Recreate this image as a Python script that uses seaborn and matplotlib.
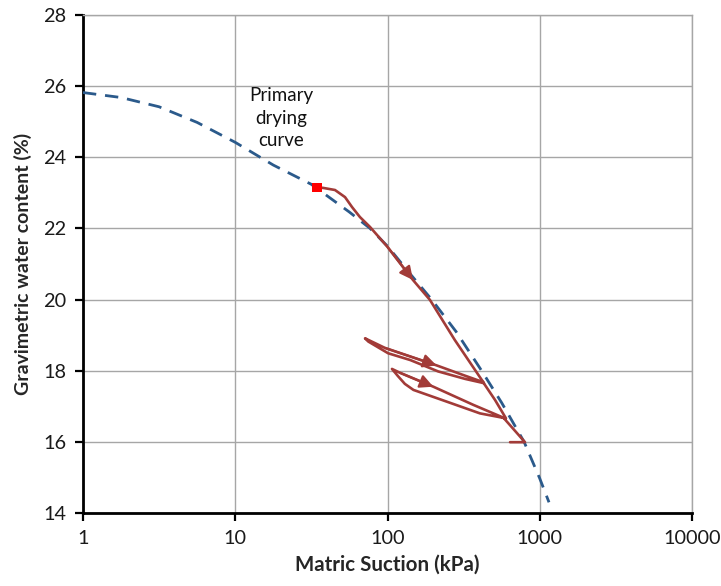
import matplotlib
matplotlib.use("Agg")
import matplotlib.pyplot as plt
import seaborn as sns
import pandas as pd

# Primary drying curve (suction in kPa, gravimetric water content in %)
primary_suction = [1, 1.78, 3.16, 5.62, 10, 17.8, 31.6, 56.2, 76.8, 100, 141,
                   195, 282, 415, 562, 789, 1000, 1150]
primary_water = [25.82, 25.68, 25.42, 24.98, 24.42, 23.78, 23.24, 22.46, 22.0, 21.5,
                 20.72, 20.0, 19.1, 18.0, 17.1, 16.0, 14.97, 14.3]

# Measured drying / wetting path
path_suction = [34.4, 37.7, 45.2, 52.6, 58.5, 65.9, 76.8, 100, 147, 190, 277, 430,
                323, 215, 141, 101, 74.8, 71.2,
                96.3, 210, 323, 424,
                508, 600,
                405, 245, 148, 130, 117, 107,
                121, 200, 366, 577,
                800, 638]
path_water = [23.15, 23.14, 23.08, 22.88, 22.60, 22.32, 22.04, 21.48, 20.55, 19.99, 18.86, 17.65,
              17.77, 17.98, 18.30, 18.49, 18.82, 18.91,
              18.64, 18.15, 17.86, 17.68,
              17.18, 16.66,
              16.80, 17.13, 17.46, 17.63, 17.85, 18.05,
              17.94, 17.55, 17.04, 16.68,
              15.99, 15.99]

# Direction arrows: index of the arrow tip within the measured path
arrow_idx = [8, 19, 31]

# Starting point of the test
start_suction = [34.4]
start_water = [23.15]

x_ticks = [1, 10, 100, 1000, 10000]
x_tick_labels = ["1", "10", "100", "1000", "10000"]
y_ticks = [14, 16, 18, 20, 22, 24, 26, 28]

sns.set_style("white")
plt.rcParams["font.family"] = ["Lato", "DejaVu Sans"]

RED = "#A23B38"
BLUE = "#2B5A8B"
GRID = "#A6A6A6"

fig = plt.figure(figsize=(7.21, 5.86), dpi=100)
ax = fig.add_axes([0.1151, 0.1246, 0.8447, 0.8498])
ax.set_xscale("log")

primary = pd.DataFrame({"suction": primary_suction, "water": primary_water})
path = pd.DataFrame({"suction": path_suction, "water": path_water})

sns.lineplot(data=primary, x="suction", y="water", sort=False, estimator=None,
             color=BLUE, linewidth=2.0, ax=ax, zorder=3)
ax.lines[-1].set_dashes([4.8, 3.2])

sns.lineplot(data=path, x="suction", y="water", sort=False, estimator=None,
             color=RED, linewidth=1.9, ax=ax, zorder=4)

for i in arrow_idx:
    ax.annotate("", xy=(path_suction[i], path_water[i]),
                xytext=(path_suction[i - 1], path_water[i - 1]),
                arrowprops=dict(arrowstyle="-|>", color=RED, lw=1.6,
                                mutation_scale=20, shrinkA=0, shrinkB=0),
                zorder=5)

sns.scatterplot(x=start_suction, y=start_water, marker="s", s=45, color="#FF0000",
                edgecolor="none", ax=ax, zorder=6)

ax.set_xlim(1, 10000)
ax.set_ylim(14, 28)
ax.set_xticks(x_ticks)
ax.set_xticklabels(x_tick_labels)
ax.xaxis.set_minor_locator(matplotlib.ticker.NullLocator())
ax.set_yticks(y_ticks)

ax.grid(True, which="major", color=GRID, linewidth=1.0)
ax.set_axisbelow(True)

for side in ("left", "bottom"):
    ax.spines[side].set_color("black")
    ax.spines[side].set_linewidth(2.0)
for side in ("top", "right"):
    ax.spines[side].set_color(GRID)
    ax.spines[side].set_linewidth(1.0)

ax.tick_params(axis="both", which="major", direction="out", length=6, width=1.6,
               color="black", labelsize=14.3, labelcolor="#1a1a1a", pad=6,
               bottom=True, left=True)

ax.set_xlabel("Matric Suction (kPa)", fontsize=14.8, fontweight="bold", labelpad=6)
ax.set_ylabel("Gravimetric water content (%)", fontsize=14, fontweight="bold", labelpad=8)

ax.text(20, 25.97, "Primary\ndrying\ncurve", ha="center", va="top", fontsize=13.5,
        linespacing=1.4, color="#111111")

fig.savefig("out.png", dpi=100)
